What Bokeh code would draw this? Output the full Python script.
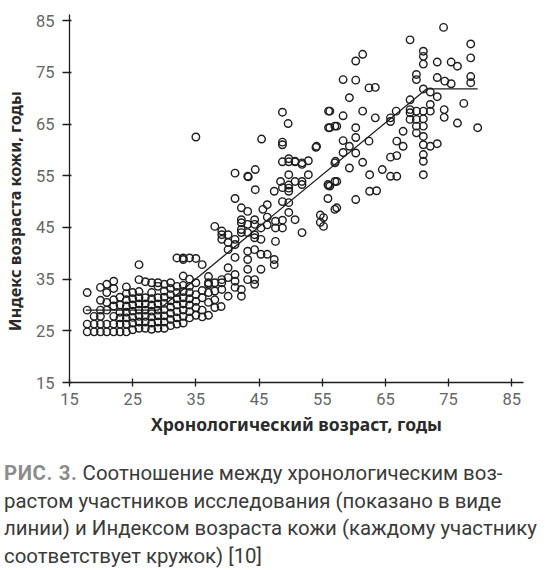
from bokeh.plotting import figure
from bokeh.models import FixedTicker, Range1d, Div
from bokeh.layouts import column
from bokeh.embed import file_html
from bokeh.resources import INLINE

# ---- data ----
young_age = [17.8, 17.8, 17.8, 17.8,
             18.9, 18.9, 18.9,
             19.9, 19.9, 19.9, 19.9, 19.9, 19.9,
             20.9, 20.9, 20.9, 20.9, 20.9, 20.9,
             22, 22, 22, 22, 22, 22, 22,
             23, 23, 23, 23, 23, 23,
             24, 24, 24, 24, 24, 24, 24, 24,
             25, 25, 25, 25, 25, 25, 25,
             26, 26, 26, 26, 26, 26, 26, 26, 26,
             27, 27, 27, 27, 27, 27, 27,
             28, 28, 28, 28, 28, 28, 28, 28,
             29, 29, 29, 29, 29, 29, 29, 29,
             30, 30, 30, 30, 30, 30, 30, 30,
             31, 31, 31, 31, 31, 31, 31, 31,
             32, 32, 32, 32, 32, 32, 32, 32,
             33, 33, 33, 33, 33, 33, 33, 33, 33, 33,
             34, 34, 34, 34, 34, 34, 34, 34,
             35, 35, 35, 35, 35, 35, 35,
             36, 36, 36, 36, 36,
             37, 37, 37, 37, 37, 37,
             38, 38, 38, 38, 38]
young_idx = [24.8, 26.3, 29, 32.4,
             24.8, 27.8, 26.3,
             24.8, 27.8, 29, 30.9, 33.4, 26.3,
             24.8, 26.3, 29, 32.4, 34, 30.5,
             24.8, 26.3, 27.8, 29.8, 31, 33.2, 34.6,
             24.8, 26.3, 27.5, 28.6, 30, 31.5,
             24.8, 26.3, 27.5, 28.6, 29.8, 31, 32.2, 33.5,
             25.2, 26.5, 27.6, 28.8, 30, 31.2, 32.4,
             25.5, 26.7, 27.8, 29, 30.2, 31.4, 32.6, 34.9, 37.8,
             25.5, 26.7, 27.8, 29, 30.2, 31.4, 34.5,
             25.3, 26.5, 27.7, 28.8, 30, 31.2, 32.4, 34.3,
             25.5, 26.7, 27.9, 29, 30.2, 31.4, 33.6, 34.3,
             25.5, 26.7, 27.9, 29.1, 30.3, 31.5, 32.7, 34,
             26, 27.2, 28.4, 29.6, 30.8, 32, 33.2, 34.3,
             26.3, 27.5, 28.7, 30, 31.2, 32.4, 33.6, 39.1,
             26.5, 27.8, 29, 30.2, 31.4, 32.6, 33.8, 35.6, 38.8, 39.1,
             27.5, 28.7, 30, 31.2, 32.4, 33.6, 35, 39.1,
             28, 29.5, 30.7, 32, 34.3, 39, 62.5,
             27.7, 29, 31.4, 32.8, 37.8,
             28, 30.5, 32.4, 34.3, 35.5, 34,
             29.5, 31, 32.7, 34.3, 45.2]

mid_age = [39.1, 39.1, 39.1, 39.1, 39.1, 39.1, 39,
           40.1, 40.1, 40.1, 40.1, 40.1, 40.1,
           41.2, 41.2, 41.2, 41.2, 41.2, 41.2, 41.2, 41.2,
           42.2, 42.2, 42.2, 42.2, 42.2, 42.2, 42.2,
           43.2, 43.2, 43.2, 43.2, 43.2, 43.2, 43.2, 43.2, 43.3,
           44.3, 44.3, 44.3, 44.3, 44.3, 44.3, 44.4, 44.4, 44.3,
           45.3, 45.3, 45.3, 45.3, 45.6, 45.4,
           46.3, 46.3, 46.3, 46.3,
           47.4, 47.4, 47.4, 47.6, 47.6, 47.6,
           48.4, 48.7, 48.7, 48.7, 48.7, 48.7, 48.7, 48.7, 48.7,
           49.7, 49.7, 49.7, 49.7, 49.7, 49.7, 49.7, 49.7, 49.6,
           50.7, 50.7, 50.7, 50.7,
           51.8, 51.8, 51.8, 51.8, 51.8,
           52.8, 52.8, 54, 54.1, 54.7, 54.7,
           55.2, 55.2, 55.9, 55.9, 56, 56, 56, 57, 57, 57, 57.1, 57]
mid_idx = [44.3, 43.6, 42.7, 34.9, 34.3, 33, 29.7,
           43.6, 42.1, 40.7, 37.2, 35.3, 31.7,
           42.7, 41.7, 39.2, 35.9, 34.6, 33.4, 50.6, 55.5,
           48.8, 46.5, 45.9, 44.6, 44, 33, 31.7,
           54.9, 48.1, 45.6, 44, 40.4, 38.8, 36.9, 34.9, 54.8,
           46.5, 45.6, 43.6, 43, 40.7, 34.9, 56.2, 52.3, 34,
           44.9, 42.7, 39.8, 36.9, 48.5, 62.1,
           49.4, 47, 45.5, 39.8,
           52, 38.8, 37.8, 46.2, 44.9, 42.3,
           53.9, 52.7, 57.7, 50, 46.4, 44.9, 67.3, 61.5, 61,
           55.2, 53.2, 52.6, 52, 57.7, 49.8, 47.9, 58.3, 65.1,
           53.9, 57.8, 46.5, 57.7,
           53.9, 53.3, 57.5, 44, 57.2,
           55.2, 57.9, 60.5, 60.7, 47.4, 46,
           46.9, 45.2, 53.3, 50.6, 67.5, 64.3, 53.1, 64.6, 53.9, 48.5, 57.8, 57.5]

old_age = [56.2, 56.2, 56.2, 57.3, 57.3, 57.3, 58.3, 58.3, 58.3, 58.3,
           59.3, 59.3, 59.3, 60.3, 60.3, 60.3, 60.3, 60.3, 60.3,
           61.4, 61.4, 61.4, 62.4, 62.4, 62.5, 62.5, 63.4, 63.4, 63.6,
           64.5, 65.8, 65.8, 65.8, 65.8, 66.7, 66.8, 66.8, 66.8,
           67.8, 67.8, 68.9, 68.9, 68.9, 68.9, 68.9,
           69.9, 69.9, 69.9, 69.9, 69.9, 69.9,
           71, 71, 71, 71, 71, 71, 71, 71, 71, 71, 71, 71,
           72.1, 72.1, 72.1, 72.1, 73.2, 73.2, 73.2, 73.2,
           74.2, 74.3, 74.3, 74.4, 75.4, 75.4, 76.4, 76.4, 77.4,
           78.5, 78.5, 78.5, 78.5, 79.6]
old_idx = [67.5, 64.3, 53, 64.6, 53.9, 48.8, 73.6, 66.6, 61.8, 59.5,
           70.1, 60.7, 56.5, 73.5, 77.2, 64.3, 62.4, 59.4, 50.4,
           78.5, 67.5, 57.6, 72, 61.7, 55.2, 52, 66.2, 72.1, 52.1,
           56.2, 66.2, 65.5, 58.6, 54.9, 67.5, 61.7, 58.9, 54.9,
           63.6, 60.7, 81.3, 69.7, 67.8, 67.2, 65.9,
           74.6, 73.6, 67.5, 65.9, 64.6, 63.3,
           79.1, 78.1, 76.6, 71.8, 67.5, 64.6, 62.6, 61, 59.1, 57.8, 55.2, 66,
           71.2, 68.8, 67.5, 60.7, 77, 74, 70.3, 61.2,
           83.7, 67.8, 66.3, 73.3, 77, 72.8, 76.2, 65.2, 69,
           80.5, 77.8, 74.2, 73, 64.3]

fit_age = [17.6, 29.0, 71.5, 79.6]
fit_idx = [29.0, 29.0, 71.8, 71.8]

x_ticks = [15, 25, 35, 45, 55, 65, 75, 85]
y_ticks = [15, 25, 35, 45, 55, 65, 75, 85]

caption_head = "РИС. 3."
caption_lines = ["Соотношение между хронологическим воз-",
                 "растом участников исследования (показано в виде",
                 "линии) и Индексом возраста кожи (каждому участнику",
                 "соответствует кружок) [10]"]

# ---- figure ----
p = figure(width=536, height=451, output_backend="svg", toolbar_location=None,
           x_range=Range1d(15, 86.85), y_range=Range1d(15, 86.2),
           min_border_left=61, min_border_right=13, min_border_top=14,
           min_border_bottom=69)
p.outline_line_color = None
p.xgrid.visible = False
p.ygrid.visible = False
p.background_fill_color = "white"

all_age = young_age + mid_age + old_age
all_idx = young_idx + mid_idx + old_idx
p.scatter(all_age, all_idx, size=7.5, marker="circle", fill_color=None,
          line_color="#1e1e1e", line_width=1.4)
p.line(fit_age, fit_idx, line_color="#1e1e1e", line_width=1.3)

TICK_FONT = "Roboto"
for ax in (p.xaxis[0], p.yaxis[0]):
    ax.axis_line_color = "#1e1e1e"
    ax.axis_line_width = 1.3
    ax.major_tick_line_color = "#1e1e1e"
    ax.major_tick_line_width = 1.3
    ax.minor_tick_line_color = None
    ax.major_label_text_font = TICK_FONT
    ax.major_label_text_font_size = "16.5px"
    ax.major_label_text_color = "#666666"
    ax.axis_label_text_font = "Noto Sans"
    ax.axis_label_text_font_style = "bold"
    ax.axis_label_text_color = "#2a2a2a"

p.xaxis.axis_label_text_font_size = "17.5px"
p.yaxis.axis_label_text_font_size = "16.3px"
p.xaxis.ticker = FixedTicker(ticks=x_ticks)
p.yaxis.ticker = FixedTicker(ticks=y_ticks)
p.xaxis.major_tick_in = 4
p.xaxis.major_tick_out = 4
p.yaxis.major_tick_in = 2
p.yaxis.major_tick_out = 7
p.xaxis.major_label_standoff = 6
p.yaxis.major_label_standoff = 8
p.xaxis.axis_label_standoff = 4
p.yaxis.axis_label_standoff = 7
p.xaxis.axis_label = "Хронологический возраст, годы"
p.yaxis.axis_label = "Индекс возраста кожи, годы" + "\u00a0" * 6

html = ('<span style="font-weight:bold;color:#8c8c8c;letter-spacing:0.6px">'
        + caption_head + '</span> '
        + caption_lines[0] + '<br>' + '<br>'.join(caption_lines[1:]))
cap = Div(text=html, width=536, height=100,
          styles={"font-family": "Roboto", "font-size": "20.4px",
                  "line-height": "27.5px", "color": "#3a3a3a",
                  "white-space": "nowrap", "margin": "0",
                  "padding-top": "9px", "padding-left": "4px",
                  "overflow": "visible"})

layout = column(p, cap, spacing=0)
open("out.html", "w").write(file_html(layout, INLINE))
